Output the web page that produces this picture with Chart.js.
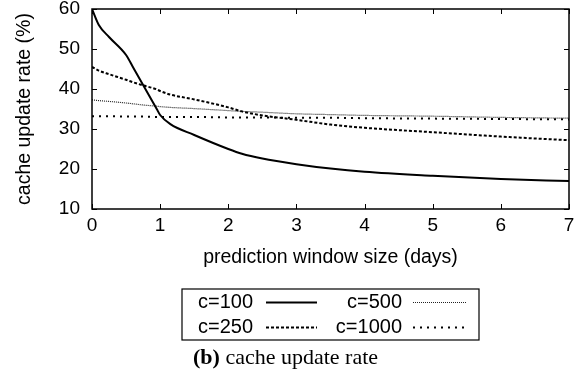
<!DOCTYPE html>
<html>
<head>
<meta charset="utf-8">
<script src="https://cdn.jsdelivr.net/npm/chart.js@4"></script>
<style>
  html, body { margin: 0; padding: 0; background: #fff; }
  #wrap { width: 587px; height: 381px; }
</style>
</head>
<body>
<div id="wrap"><canvas id="rateChart" width="587" height="381"></canvas></div>
<script>
// prediction window size (days)
const days = [0, 0.1, 0.25, 0.5, 0.6, 0.75, 0.95, 1.0, 1.15, 1.5, 2, 2.2, 2.5, 3, 3.5, 4, 5, 6, 7];

// cache update rate (%)
const c100  = [60, 56, 53, 48.5, 45.5, 41, 35, 33.5, 31.2, 28.5, 25, 23.8, 22.6, 21.2, 20.1, 19.3, 18.3, 17.5, 17];
const c250  = [45.5, 44.6, 43.7, 42.3, 41.7, 40.9, 39.9, 39.5, 38.6, 37.4, 35.4, 34.4, 33.4, 32.3, 31.1, 30.3, 29.2, 28.1, 27.2];
const c500  = [37.3, 37.1, 36.9, 36.5, 36.3, 36.0, 35.7, 35.6, 35.4, 35.1, 34.6, 34.4, 34.2, 33.8, 33.6, 33.4, 33.2, 32.9, 32.7];
const c1000 = [33.2, 33.2, 33.2, 33.1, 33.1, 33.1, 33.0, 33.0, 33.0, 33.0, 32.9, 32.9, 32.9, 32.8, 32.8, 32.7, 32.6, 32.5, 32.4];

const seriesLabels = ['c=100', 'c=250', 'c=500', 'c=1000'];
const xTicks = [0, 1, 2, 3, 4, 5, 6, 7];
const yTicks = [10, 20, 30, 40, 50, 60];

const sans = "'Liberation Sans', Arial, sans-serif";
const serif = "'Liberation Serif', 'Times New Roman', serif";

function toPoints(vals) {
  return days.map((d, i) => ({ x: d, y: vals[i] }));
}

// gnuplot style frame, inward ticks, key box and caption
const framePlugin = {
  id: 'frame',
  afterDatasetsDraw(chart) {
    const { ctx, chartArea: a, scales } = chart;
    const tl = 5;
    ctx.save();
    ctx.strokeStyle = '#000';
    ctx.lineWidth = 1;
    ctx.beginPath();
    xTicks.forEach(v => {
      const px = Math.round(scales.x.getPixelForValue(v)) + 0.5;
      ctx.moveTo(px, a.bottom); ctx.lineTo(px, a.bottom - tl);
      ctx.moveTo(px, a.top); ctx.lineTo(px, a.top + tl);
    });
    yTicks.forEach(v => {
      const py = Math.round(scales.y.getPixelForValue(v)) + 0.5;
      ctx.moveTo(a.left, py); ctx.lineTo(a.left + tl, py);
      ctx.moveTo(a.right, py); ctx.lineTo(a.right - tl, py);
    });
    ctx.stroke();
    ctx.lineWidth = 1.5;
    ctx.strokeRect(a.left, a.top, a.right - a.left, a.bottom - a.top);

    // key
    const bx = 182, by = 289, bw = 297, bh = 51;
    ctx.lineWidth = 1.2;
    ctx.strokeRect(bx, by, bw, bh);
    ctx.font = '20px ' + sans;
    ctx.fillStyle = '#000';
    ctx.textAlign = 'right';
    ctx.textBaseline = 'middle';
    const cols = [{ tx: 253, l0: 266, l1: 317 }, { tx: 402, l0: 413, l1: 467 }];
    const rows = [302, 327];
    const order = [[0, 0, 0], [2, 1, 0], [1, 0, 1], [3, 1, 1]];
    order.forEach(([di, ci, ri]) => {
      const ds = chart.data.datasets[di];
      const c = cols[ci], y = rows[ri];
      ctx.fillText(ds.label, c.tx, y);
      ctx.save();
      ctx.strokeStyle = ds.borderColor;
      ctx.lineWidth = ds.borderWidth;
      ctx.setLineDash(ds.borderDash || []);
      ctx.beginPath();
      ctx.moveTo(c.l0, y + 0.5); ctx.lineTo(c.l1, y + 0.5);
      ctx.stroke();
      ctx.restore();
    });

    // caption
    ctx.textAlign = 'left';
    ctx.font = 'bold 22px ' + serif;
    ctx.fillText('(b)', 193, 358);
    const w = ctx.measureText('(b) ').width;
    ctx.font = '22px ' + serif;
    ctx.fillText('cache update rate', 193 + w, 358);
    ctx.restore();
  }
};

const ctx = document.getElementById('rateChart');
new Chart(ctx, {
  type: 'line',
  data: {
    datasets: [
      { label: seriesLabels[0], data: toPoints(c100), borderColor: '#000', borderWidth: 2, borderDash: [] },
      { label: seriesLabels[1], data: toPoints(c250), borderColor: '#000', borderWidth: 2, borderDash: [3, 2] },
      { label: seriesLabels[2], data: toPoints(c500), borderColor: '#222', borderWidth: 1.2, borderDash: [1, 1] },
      { label: seriesLabels[3], data: toPoints(c1000), borderColor: '#000', borderWidth: 2, borderDash: [2, 5] }
    ]
  },
  options: {
    responsive: false,
    animation: false,
    events: [],
    elements: {
      point: { radius: 0 },
      line: { cubicInterpolationMode: 'monotone', borderCapStyle: 'butt' }
    },
    layout: { padding: { left: 0, top: 9, right: 18, bottom: 102 } },
    plugins: {
      legend: { display: false },
      tooltip: { enabled: false }
    },
    scales: {
      x: {
        type: 'linear',
        min: 0,
        max: 7,
        afterFit: s => { s.height = 70; s.paddingLeft = 0; s.paddingRight = 0; },
        afterBuildTicks: s => { s.ticks = xTicks.map(v => ({ value: v })); },
        grid: { display: false, drawTicks: false },
        border: { display: false },
        ticks: { color: '#000', padding: 7, maxRotation: 0, font: { family: sans, size: 19, lineHeight: 1 } },
        title: {
          display: true,
          text: 'prediction window size (days)',
          color: '#000',
          font: { family: sans, size: 19.5, lineHeight: 1.2 },
          padding: { top: 0, bottom: 10 }
        }
      },
      y: {
        min: 10,
        max: 60,
        afterFit: s => { s.width = 92; s.paddingTop = 0; s.paddingBottom = 0; },
        afterBuildTicks: s => { s.ticks = yTicks.map(v => ({ value: v })); },
        grid: { display: false, drawTicks: false },
        border: { display: false },
        ticks: { color: '#000', padding: 12, font: { family: sans, size: 19, lineHeight: 1 } },
        title: {
          display: true,
          text: 'cache update rate (%)',
          color: '#000',
          font: { family: sans, size: 19.5, lineHeight: 1.2 },
          padding: { top: 13, bottom: 0 }
        }
      }
    }
  },
  plugins: [framePlugin]
});
</script>
</body>
</html>
